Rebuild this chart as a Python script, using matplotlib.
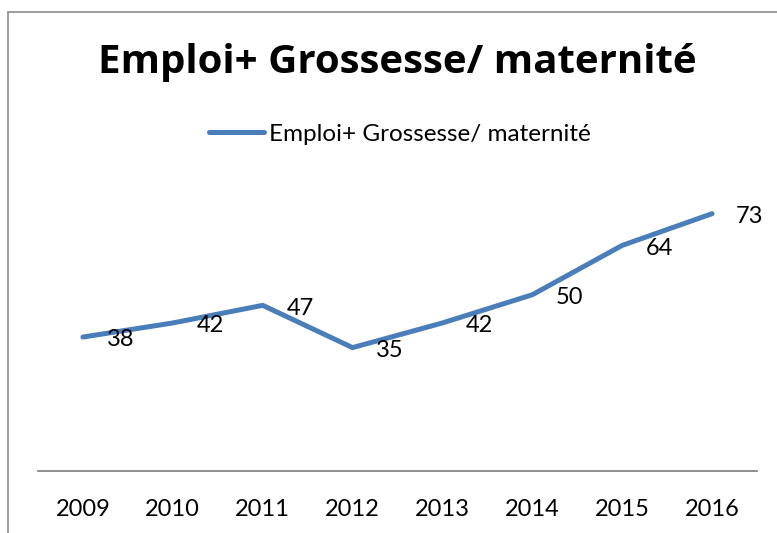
import matplotlib
matplotlib.use("Agg")
import matplotlib.pyplot as plt
from matplotlib.patches import Rectangle

years = ["2009", "2010", "2011", "2012", "2013", "2014", "2015", "2016"]
values = [38, 42, 47, 35, 42, 50, 64, 73]
series_name = "Emploi+ Grossesse/ maternité"
title = "Emploi+ Grossesse/ maternité"

plt.rcParams['font.family'] = ['Lato', 'DejaVu Sans']

W, H = 777, 533
fig = plt.figure(figsize=(W / 100, H / 100), dpi=100)
fig.patch.set_facecolor("white")

# outer chart border (extends beyond the image at right and bottom)
fig.patches.append(Rectangle((8 / W, -0.1), 1.0, 1 - 12 / H + 0.1,
                             transform=fig.transFigure, fill=False,
                             edgecolor="#8c8c8c", linewidth=1.2))

ax = fig.add_axes([38 / W, 1 - 471 / H, (757 - 38) / W, (471 - 189) / H])
x = list(range(len(years)))
line, = ax.plot(x, values, color="#4A7EBB", linewidth=3.6,
                solid_joinstyle="miter", solid_capstyle="round",
                label=series_name)
ax.set_xlim(-0.5, len(years) - 0.5)
ax.set_ylim(0, 80)
ax.set_yticks([])
ax.set_xticks(x)
ax.set_xticklabels(years, fontsize=17)
ax.tick_params(axis="x", length=0, pad=20, colors="black")
for s in ["top", "right", "left"]:
    ax.spines[s].set_visible(False)
ax.spines["bottom"].set_color("#868686")
ax.spines["bottom"].set_linewidth(1.3)
ax.patch.set_alpha(0)

for xi, v in zip(x, values):
    ax.annotate(str(v), (xi, v), xytext=(17, -2), textcoords="offset points",
                ha="left", va="center", fontsize=17, color="black")

fig.text(397 / W, 1 - 62 / H, title, ha="center", va="center",
         fontsize=29, fontweight="bold", family=["Open Sans", "DejaVu Sans"])

# legend
fig.legend(handles=[line], loc="center", bbox_to_anchor=(400 / W, 1 - 134 / H),
           frameon=False, fontsize=17.5, handlelength=2.25, handletextpad=0.2,
           borderaxespad=0)

fig.savefig("out.png", dpi=100)
